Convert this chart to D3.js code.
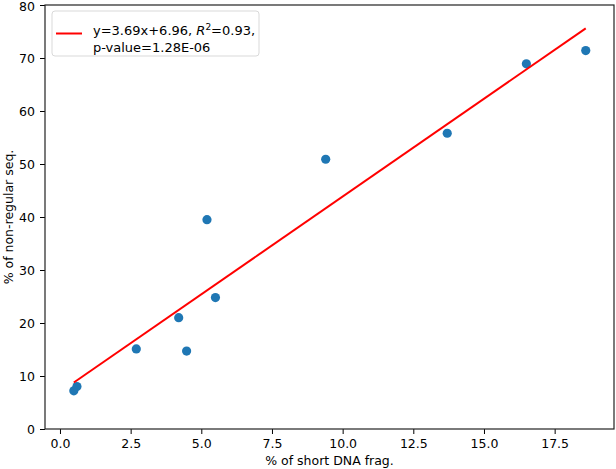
<!DOCTYPE html>
<html>
<head>
<meta charset="utf-8">
<script src="https://cdn.jsdelivr.net/npm/d3@7"></script>
<style>
  body { margin: 0; background: #fff; }
  text { font-family: "DejaVu Sans", sans-serif; }
</style>
</head>
<body>
<svg id="chart"></svg>
<script>
// values
const shortFrag = [0.49, 0.6, 2.7, 4.2, 4.48, 5.2, 5.5, 9.4, 13.7, 16.5, 18.6]
const nonRegular = [7.2, 8.0, 15.1, 21.0, 14.7, 39.5, 24.8, 50.9, 55.8, 68.9, 71.4]
const fitSlope = 3.69,
      fitIntercept = 6.96
const xTicks = [0, 2.5, 5, 7.5, 10, 12.5, 15, 17.5]
const yTicks = [0, 10, 20, 30, 40, 50, 60, 70, 80]

function ScatterFit(id, width = 616, height = 469){

    const margin = {top: 5, right: 2, bottom: 40, left: 45},
          bodyHeight = height - margin.top - margin.bottom,
          bodyWidth = width - margin.left - margin.right

    const container = d3.select(`#${id}`)
                        .attr("width", width)
                        .attr("height", height),
          body = container.append('g')
                          .attr("transform", `translate(${margin.left},${margin.top})`)

    const x = d3.scaleLinear().domain([-0.53, 19.6]).range([0, bodyWidth]),
          y = d3.scaleLinear().domain([0, 80]).range([bodyHeight, 0])

    const xAxis = body.append('g')
                      .attr("transform", `translate(0,${bodyHeight})`)
                      .call(d3.axisBottom(x).tickValues(xTicks).tickFormat(d3.format(".1f"))
                              .tickSize(5).tickPadding(5))
    const yAxis = body.append('g')
                      .call(d3.axisLeft(y).tickValues(yTicks).tickFormat(d3.format("d"))
                              .tickSize(5).tickPadding(5))
    for (const ax of [xAxis, yAxis]) {
        ax.select('.domain').remove()
        ax.selectAll('line').attr('stroke', '#000').attr('stroke-width', 1)
        ax.selectAll('text').attr('font-size', 12.5).attr('fill', '#000')
          .style('font-family', '"DejaVu Sans", sans-serif')
    }
    // top label sits on the edge, nudge it down a touch
    yAxis.selectAll('.tick text').filter(d => d === 80).attr('dy', '0.42em')

    // frame
    body.append('rect')
        .attr('width', bodyWidth)
        .attr('height', bodyHeight)
        .attr('fill', 'none')
        .attr('stroke', '#222')
        .attr('stroke-width', 1.2)

    // points
    body.selectAll('circle')
        .data(shortFrag)
        .join('circle')
        .attr('cx', d => x(d))
        .attr('cy', (d, i) => y(nonRegular[i]))
        .attr('r', 4.6)
        .attr('fill', '#1f77b4')

    // fitted line
    const xs = d3.extent(shortFrag)
    body.append('path')
        .datum(xs)
        .attr('d', d3.line().x(d => x(d)).y(d => y(fitSlope * d + fitIntercept)))
        .attr('stroke', 'red')
        .attr('stroke-width', 2)
        .attr('fill', 'none')

    // legend
    const legend = body.append('g').attr('transform', 'translate(7,6)')
    legend.append('rect')
          .attr('width', 207)
          .attr('height', 45)
          .attr('rx', 3)
          .attr('fill', '#fff')
          .attr('fill-opacity', 0.8)
          .attr('stroke', '#d9d9d9')
          .attr('stroke-width', 1)
    legend.append('line')
          .attr('x1', 4).attr('x2', 30)
          .attr('y1', 22.5).attr('y2', 22.5)
          .attr('stroke', 'red')
          .attr('stroke-width', 2)
    const t1 = legend.append('text')
                     .attr('x', 41)
                     .attr('y', 24)
                     .attr('font-size', 13)
    t1.append('tspan').text(`y=${fitSlope}x+${fitIntercept}, `)
    t1.append('tspan').attr('font-style', 'italic').text('R')
    t1.append('tspan').attr('font-size', 9).attr('dy', -5).text('2')
    t1.append('tspan').attr('dy', 5).text('=0.93,')
    legend.append('text')
          .attr('x', 41)
          .attr('y', 41)
          .attr('font-size', 13)
          .text('p-value=1.28E-06')

    // axis titles
    container.append('text')
             .attr('x', margin.left + bodyWidth / 2)
             .attr('y', height - 4)
             .attr('text-anchor', 'middle')
             .attr('font-size', 12.5)
             .text('% of short DNA frag.')
    container.append('text')
             .attr('transform', `translate(13,${margin.top + bodyHeight / 2}) rotate(-90)`)
             .attr('text-anchor', 'middle')
             .attr('font-size', 12.5)
             .text('% of non-regular seq.')
}

ScatterFit('chart')
</script>
</body>
</html>
